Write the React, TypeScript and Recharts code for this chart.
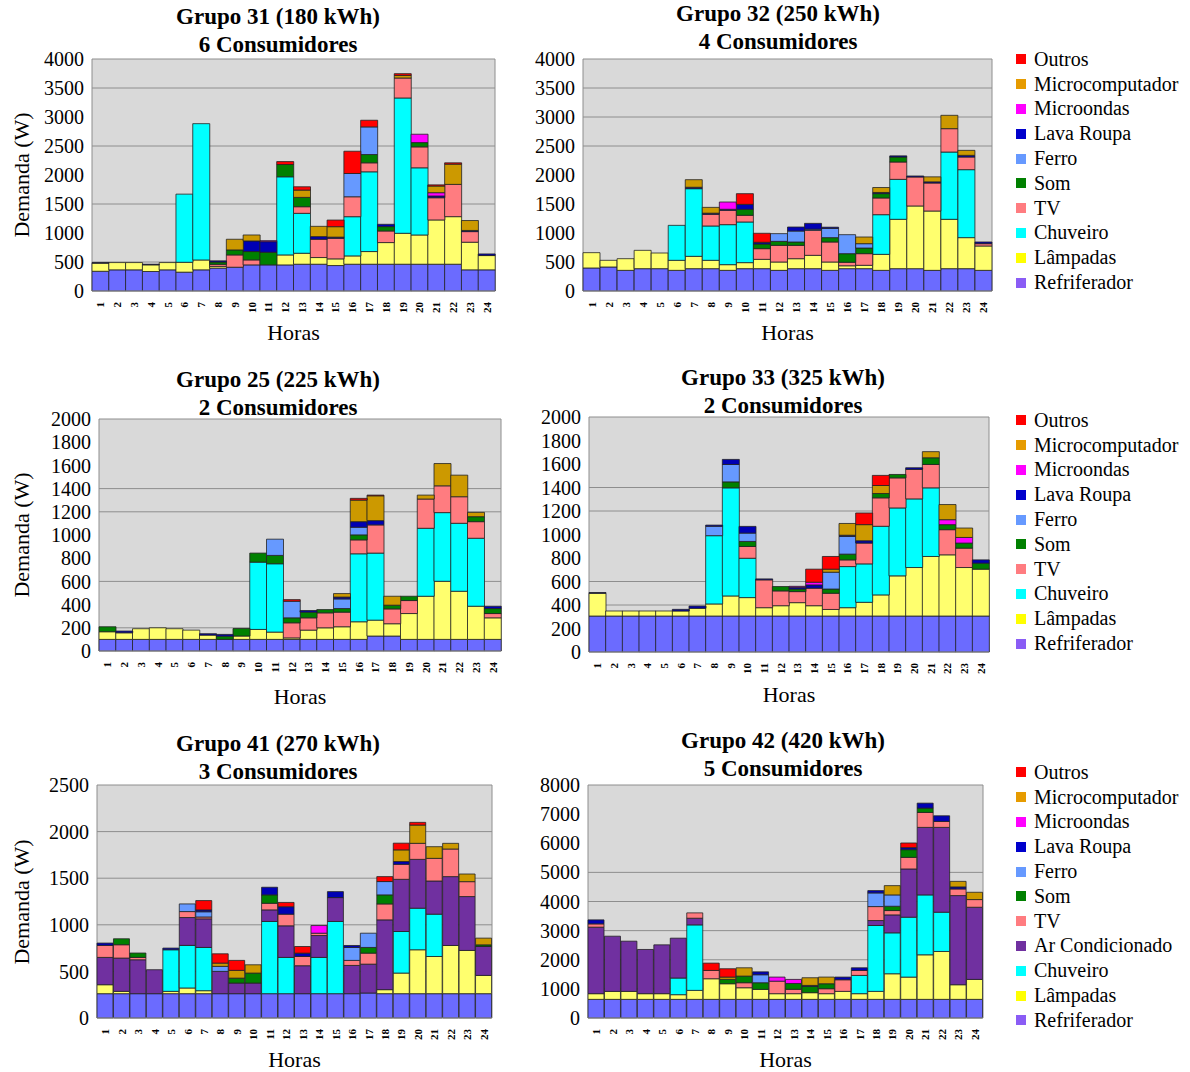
import { BarChart, Bar, XAxis, YAxis, CartesianGrid } from 'recharts';

const horas = ['1', '2', '3', '4', '5', '6', '7', '8', '9', '10', '11', '12', '13', '14', '15', '16', '17', '18', '19', '20', '21', '22', '23', '24'];

const ticks4000 = [0, 500, 1000, 1500, 2000, 2500, 3000, 3500, 4000];
const ticks2000 = [0, 200, 400, 600, 800, 1000, 1200, 1400, 1600, 1800, 2000];
const ticks2500 = [0, 500, 1000, 1500, 2000, 2500];
const ticks8000 = [0, 1000, 2000, 3000, 4000, 5000, 6000, 7000, 8000];

// Grupo 31 (180 kWh)
const g31Refrigerador = [340, 365, 365, 336, 365, 325, 365, 395, 410, 450, 450, 450, 462, 462, 439, 462, 462, 462, 462, 462, 462, 462, 365, 365];
const g31Lampadas = [140, 125, 125, 115, 125, 170, 170, 30, 0, 0, 0, 172, 189, 115, 115, 143, 218, 373, 533, 504, 763, 820, 476, 246];
const g31Chuveiro = [0, 0, 0, 0, 0, 1175, 2350, 0, 0, 0, 0, 1347, 688, 0, 0, 676, 1375, 0, 2333, 1158, 0, 0, 0, 0];
const g31Tv = [0, 0, 0, 0, 0, 0, 0, 35, 212, 86, 0, 0, 114, 315, 355, 344, 155, 200, 344, 361, 383, 556, 183, 0];
const g31Som = [0, 0, 0, 0, 0, 0, 0, 40, 86, 144, 218, 212, 161, 0, 0, 0, 143, 75, 0, 74, 0, 0, 0, 0];
const g31Ferro = [0, 0, 0, 0, 0, 0, 0, 0, 0, 0, 0, 0, 0, 0, 0, 401, 476, 0, 0, 0, 0, 0, 0, 0];
const g31LavaRoupa = [10, 0, 0, 10, 0, 0, 0, 20, 0, 183, 183, 0, 0, 46, 20, 0, 0, 40, 0, 0, 30, 0, 20, 28];
const g31Microondas = [0, 0, 0, 0, 0, 0, 0, 0, 0, 0, 17, 0, 0, 0, 0, 0, 0, 0, 0, 144, 57, 0, 0, 0];
const g31Microcomputador = [0, 0, 0, 0, 0, 0, 0, 0, 184, 103, 0, 0, 126, 177, 180, 0, 0, 0, 45, 0, 115, 349, 171, 0];
const g31Outros = [0, 0, 0, 0, 0, 0, 0, 0, 0, 0, 0, 50, 57, 0, 114, 384, 115, 0, 30, 0, 20, 23, 0, 0];

// Grupo 32 (250 kWh)
const g32Refrigerador = [397, 414, 356, 385, 385, 356, 385, 385, 356, 385, 385, 356, 385, 385, 356, 385, 385, 356, 385, 385, 356, 385, 385, 356];
const g32Lampadas = [264, 115, 201, 316, 270, 173, 213, 144, 98, 104, 161, 144, 172, 230, 144, 50, 58, 276, 851, 1081, 1023, 851, 535, 420];
const g32Chuveiro = [0, 0, 0, 0, 0, 603, 1166, 592, 690, 701, 0, 0, 0, 0, 0, 0, 0, 684, 689, 0, 0, 1160, 1172, 0];
const g32Tv = [0, 0, 0, 0, 0, 0, 0, 201, 247, 115, 184, 287, 230, 431, 345, 60, 201, 288, 299, 500, 483, 403, 218, 40];
const g32Som = [0, 0, 0, 0, 0, 0, 0, 0, 0, 103, 80, 69, 58, 0, 75, 149, 97, 75, 86, 0, 0, 0, 0, 0];
const g32Ferro = [0, 0, 0, 0, 0, 0, 0, 0, 0, 0, 0, 133, 189, 20, 160, 327, 75, 0, 0, 0, 0, 0, 0, 0];
const g32LavaRoupa = [0, 0, 0, 0, 0, 0, 25, 20, 18, 86, 30, 0, 69, 100, 20, 0, 0, 20, 20, 17, 20, 0, 29, 29];
const g32Microondas = [0, 0, 0, 0, 0, 0, 0, 0, 125, 0, 0, 0, 0, 0, 0, 0, 0, 0, 0, 0, 0, 0, 0, 0];
const g32Microcomputador = [0, 0, 0, 0, 0, 0, 130, 100, 0, 0, 0, 0, 0, 0, 0, 0, 115, 85, 0, 0, 86, 230, 86, 0];
const g32Outros = [0, 0, 0, 0, 0, 0, 0, 0, 0, 184, 155, 0, 0, 0, 0, 0, 0, 0, 0, 0, 0, 0, 0, 0];

// Grupo 25 (225 kWh)
const g25Refrigerador = [100, 100, 100, 100, 100, 100, 100, 100, 100, 100, 100, 100, 100, 100, 100, 100, 129, 129, 100, 100, 100, 100, 100, 100];
const g25Lampadas = [66, 57, 92, 100, 92, 80, 37, 0, 29, 86, 63, 13, 80, 100, 109, 152, 137, 106, 223, 372, 501, 415, 286, 186];
const g25Chuveiro = [0, 0, 0, 0, 0, 0, 0, 0, 0, 580, 589, 0, 0, 0, 0, 586, 578, 0, 0, 586, 592, 586, 586, 0];
const g25Tv = [0, 0, 0, 0, 0, 0, 0, 0, 0, 0, 0, 130, 106, 129, 126, 120, 243, 128, 112, 252, 231, 229, 143, 37];
const g25Som = [43, 0, 0, 0, 0, 0, 0, 28, 65, 78, 72, 43, 49, 28, 31, 43, 0, 32, 37, 0, 0, 0, 43, 43];
const g25Ferro = [0, 0, 0, 0, 0, 0, 0, 0, 0, 0, 140, 143, 0, 0, 83, 66, 0, 0, 0, 0, 0, 0, 0, 0];
const g25LavaRoupa = [0, 15, 0, 0, 0, 0, 12, 15, 0, 0, 0, 0, 14, 0, 16, 48, 37, 0, 0, 0, 0, 0, 0, 20];
const g25Microondas = [0, 0, 0, 0, 0, 0, 0, 0, 0, 0, 0, 0, 0, 0, 0, 0, 0, 0, 0, 0, 0, 0, 0, 0];
const g25Microcomputador = [0, 0, 0, 0, 0, 0, 0, 0, 0, 0, 0, 0, 0, 0, 30, 186, 214, 77, 0, 34, 192, 186, 37, 0];
const g25Outros = [0, 0, 0, 0, 0, 0, 0, 0, 0, 0, 0, 14, 0, 0, 0, 15, 6, 0, 0, 0, 0, 0, 0, 0];

// Grupo 33 (325 kWh)
const g33Refrigerador = [306, 306, 306, 306, 306, 306, 306, 306, 306, 306, 306, 306, 306, 306, 306, 306, 306, 306, 306, 306, 306, 306, 306, 306];
const g33Lampadas = [194, 43, 43, 43, 43, 43, 66, 103, 171, 157, 71, 88, 114, 88, 56, 71, 117, 180, 342, 413, 507, 521, 413, 399];
const g33Chuveiro = [0, 0, 0, 0, 0, 0, 0, 581, 920, 335, 0, 0, 0, 0, 0, 350, 327, 584, 578, 584, 584, 0, 0, 0];
const g33Tv = [0, 0, 0, 0, 0, 0, 0, 0, 0, 100, 237, 126, 94, 149, 138, 57, 177, 242, 256, 251, 199, 214, 165, 0];
const g33Som = [0, 0, 0, 0, 0, 0, 0, 0, 51, 43, 0, 37, 22, 0, 36, 49, 0, 37, 29, 0, 57, 43, 43, 51];
const g33Ferro = [0, 0, 0, 0, 0, 0, 0, 80, 148, 71, 0, 0, 0, 0, 143, 151, 0, 0, 0, 0, 0, 0, 0, 0];
const g33LavaRoupa = [6, 0, 0, 0, 0, 14, 19, 10, 43, 57, 8, 0, 15, 28, 0, 10, 20, 0, 0, 14, 0, 0, 0, 28];
const g33Microondas = [0, 0, 0, 0, 0, 0, 0, 0, 0, 0, 0, 0, 8, 23, 0, 0, 0, 0, 0, 0, 0, 42, 48, 0];
const g33Microcomputador = [0, 0, 0, 0, 0, 0, 0, 0, 0, 0, 0, 0, 0, 0, 26, 100, 137, 68, 0, 0, 52, 129, 80, 0];
const g33Outros = [0, 0, 0, 0, 0, 0, 0, 0, 0, 0, 0, 0, 0, 111, 108, 0, 99, 86, 0, 0, 0, 0, 0, 0];

// Grupo 41 (270 kWh)
const g41Refrigerador = [261, 261, 261, 261, 261, 261, 261, 261, 261, 261, 261, 261, 261, 261, 261, 261, 268, 261, 261, 261, 261, 261, 261, 261];
const g41Lampadas = [96, 25, 0, 0, 25, 61, 32, 0, 0, 0, 0, 0, 0, 0, 0, 0, 0, 43, 221, 471, 399, 517, 464, 196];
const g41Chuveiro = [0, 0, 0, 0, 446, 457, 464, 0, 0, 0, 775, 389, 0, 389, 775, 0, 0, 0, 446, 446, 454, 0, 0, 0];
const g41ArCondicionado = [293, 357, 364, 257, 0, 299, 307, 239, 114, 114, 124, 339, 300, 235, 256, 303, 310, 749, 560, 524, 356, 739, 578, 310];
const g41Tv = [129, 143, 25, 0, 0, 64, 20, 0, 0, 0, 71, 125, 99, 25, 0, 54, 118, 171, 161, 172, 243, 296, 160, 0];
const g41Som = [0, 64, 47, 0, 0, 0, 0, 0, 53, 107, 90, 0, 0, 0, 0, 0, 61, 97, 0, 0, 0, 0, 0, 18];
const g41Ferro = [0, 0, 0, 0, 0, 82, 56, 54, 0, 0, 0, 0, 0, 0, 0, 139, 153, 143, 0, 0, 0, 0, 0, 0];
const g41LavaRoupa = [25, 0, 0, 0, 18, 0, 20, 0, 0, 0, 82, 80, 36, 0, 64, 21, 0, 0, 30, 0, 0, 0, 0, 0];
const g41Microondas = [0, 0, 0, 0, 0, 0, 0, 0, 0, 0, 0, 0, 0, 82, 0, 0, 0, 0, 0, 0, 0, 0, 0, 0];
const g41Microcomputador = [0, 0, 0, 0, 0, 0, 0, 35, 83, 89, 0, 0, 0, 0, 0, 0, 0, 0, 125, 196, 125, 61, 82, 72];
const g41Outros = [0, 0, 0, 0, 0, 0, 100, 100, 107, 0, 0, 46, 71, 0, 0, 0, 0, 53, 72, 29, 0, 0, 0, 0];

// Grupo 42 (420 kWh)
const g42Refrigerador = [640, 640, 640, 640, 640, 640, 640, 640, 640, 640, 640, 640, 640, 640, 640, 640, 640, 640, 640, 640, 640, 640, 640, 640];
const g42Lampadas = [195, 274, 274, 195, 195, 160, 308, 708, 536, 399, 342, 195, 195, 229, 195, 274, 195, 274, 879, 765, 1530, 1644, 502, 685];
const g42Chuveiro = [0, 0, 0, 0, 0, 572, 2249, 0, 0, 0, 0, 0, 0, 0, 0, 0, 627, 2262, 1405, 2056, 2056, 1348, 0, 0];
const g42ArCondicionado = [2284, 1895, 1724, 1518, 1677, 1369, 229, 0, 0, 0, 0, 0, 0, 0, 0, 0, 0, 171, 616, 1656, 2318, 2912, 3061, 2478];
const g42Tv = [113, 0, 0, 0, 0, 0, 183, 285, 0, 172, 0, 430, 150, 0, 170, 399, 171, 479, 149, 399, 514, 205, 228, 263];
const g42Som = [0, 0, 0, 0, 0, 0, 0, 0, 150, 228, 229, 0, 200, 216, 171, 0, 0, 0, 148, 263, 148, 0, 0, 0];
const g42Ferro = [0, 0, 0, 0, 0, 0, 0, 0, 0, 0, 274, 0, 0, 0, 0, 0, 0, 468, 389, 0, 0, 0, 0, 0];
const g42LavaRoupa = [137, 0, 0, 0, 0, 0, 0, 0, 0, 0, 100, 0, 0, 34, 0, 92, 91, 80, 0, 70, 171, 194, 70, 0];
const g42Microondas = [0, 0, 0, 0, 0, 0, 0, 0, 0, 0, 0, 140, 140, 0, 0, 0, 0, 0, 0, 0, 0, 0, 0, 0];
const g42Microcomputador = [0, 0, 0, 0, 0, 0, 0, 0, 80, 285, 0, 0, 0, 263, 229, 0, 0, 0, 319, 0, 0, 0, 190, 251];
const g42Outros = [0, 0, 0, 0, 0, 0, 0, 251, 285, 0, 0, 0, 0, 0, 0, 0, 0, 0, 0, 160, 0, 0, 0, 0];

// stack order bottom -> top
const SERIES = [
  { key: 'refrigerador', name: 'Refriferador', color: '#6B6BFF', legend: '#8A5CF5' },
  { key: 'lampadas', name: 'Lâmpadas', color: '#FFFF6E', legend: '#FFFF00' },
  { key: 'chuveiro', name: 'Chuveiro', color: '#00FFFF', legend: '#00FFFF' },
  { key: 'arCondicionado', name: 'Ar Condicionado', color: '#7030A0', legend: '#7030A0' },
  { key: 'tv', name: 'TV', color: '#FF7C80', legend: '#FF7C80' },
  { key: 'som', name: 'Som', color: '#008000', legend: '#008000' },
  { key: 'ferro', name: 'Ferro', color: '#6699FF', legend: '#6699FF' },
  { key: 'lavaRoupa', name: 'Lava Roupa', color: '#0000B4', legend: '#0000CC' },
  { key: 'microondas', name: 'Microondas', color: '#FF00FF', legend: '#FF00FF' },
  { key: 'microcomputador', name: 'Microcomputador', color: '#CC9900', legend: '#E69B00' },
  { key: 'outros', name: 'Outros', color: '#FF0000', legend: '#FF0000' },
];

const FONT = '"Liberation Serif", "Times New Roman", serif';

function rows(cols: Record<string, number[]>) {
  return horas.map((hora, i) => {
    const r: Record<string, number | string> = { hora };
    for (const k in cols) r[k] = cols[k][i];
    return r;
  });
}

const panels = [
  {
    title: 'Grupo 31 (180 kWh)', sub: '6 Consumidores', x0: 92, x1: 495, y0: 59, y1: 291,
    yMax: 4000, ticks: ticks4000, grid: [500, 1500, 2500, 3500, 4000], titleX: 278, titleY: 3, horasY: 333, yLabel: true,
    data: rows({ refrigerador: g31Refrigerador, lampadas: g31Lampadas, chuveiro: g31Chuveiro, tv: g31Tv, som: g31Som, ferro: g31Ferro, lavaRoupa: g31LavaRoupa, microondas: g31Microondas, microcomputador: g31Microcomputador, outros: g31Outros }),
  },
  {
    title: 'Grupo 32 (250 kWh)', sub: '4 Consumidores', x0: 583, x1: 992, y0: 59, y1: 291,
    yMax: 4000, ticks: ticks4000, grid: [2500, 3000, 3500, 4000], titleX: 778, titleY: 0, horasY: 333, yLabel: false,
    data: rows({ refrigerador: g32Refrigerador, lampadas: g32Lampadas, chuveiro: g32Chuveiro, tv: g32Tv, som: g32Som, ferro: g32Ferro, lavaRoupa: g32LavaRoupa, microondas: g32Microondas, microcomputador: g32Microcomputador, outros: g32Outros }),
  },
  {
    title: 'Grupo 25 (225 kWh)', sub: '2 Consumidores', x0: 99, x1: 501, y0: 419, y1: 651,
    yMax: 2000, ticks: ticks2000, grid: [200, 600, 1200, 1400, 2000], titleX: 278, titleY: 366, horasY: 697, yLabel: true,
    data: rows({ refrigerador: g25Refrigerador, lampadas: g25Lampadas, chuveiro: g25Chuveiro, tv: g25Tv, som: g25Som, ferro: g25Ferro, lavaRoupa: g25LavaRoupa, microondas: g25Microondas, microcomputador: g25Microcomputador, outros: g25Outros }),
  },
  {
    title: 'Grupo 33 (325 kWh)', sub: '2 Consumidores', x0: 589, x1: 989, y0: 417, y1: 652,
    yMax: 2000, ticks: ticks2000, grid: [400, 600, 1200, 1400, 2000], titleX: 783, titleY: 364, horasY: 695, yLabel: false,
    data: rows({ refrigerador: g33Refrigerador, lampadas: g33Lampadas, chuveiro: g33Chuveiro, tv: g33Tv, som: g33Som, ferro: g33Ferro, lavaRoupa: g33LavaRoupa, microondas: g33Microondas, microcomputador: g33Microcomputador, outros: g33Outros }),
  },
  {
    title: 'Grupo 41 (270 kWh)', sub: '3 Consumidores', x0: 97, x1: 492, y0: 785, y1: 1018,
    yMax: 2500, ticks: ticks2500, grid: [500, 1000, 1500, 2000, 2500], titleX: 278, titleY: 730, horasY: 1060, yLabel: true,
    data: rows({ refrigerador: g41Refrigerador, lampadas: g41Lampadas, chuveiro: g41Chuveiro, arCondicionado: g41ArCondicionado, tv: g41Tv, som: g41Som, ferro: g41Ferro, lavaRoupa: g41LavaRoupa, microondas: g41Microondas, microcomputador: g41Microcomputador, outros: g41Outros }),
  },
  {
    title: 'Grupo 42 (420 kWh)', sub: '5 Consumidores', x0: 588, x1: 983, y0: 785, y1: 1018,
    yMax: 8000, ticks: ticks8000, grid: [1000, 2000, 3000, 4000, 5000, 8000], titleX: 783, titleY: 727, horasY: 1060, yLabel: false,
    data: rows({ refrigerador: g42Refrigerador, lampadas: g42Lampadas, chuveiro: g42Chuveiro, arCondicionado: g42ArCondicionado, tv: g42Tv, som: g42Som, ferro: g42Ferro, lavaRoupa: g42LavaRoupa, microondas: g42Microondas, microcomputador: g42Microcomputador, outros: g42Outros }),
  },
];

const HourTick = (props: any) => {
  const { x, y, payload } = props;
  return (
    <text
      transform={`translate(${x + 4},${y + 3}) rotate(-90)`}
      textAnchor="end"
      fontSize={11}
      fontWeight="bold"
      fontFamily={FONT}
      fill="#000"
    >
      {payload.value}
    </text>
  );
};

const YW = 62;
const MT = 14;
const MR = 6;
const XH = 26;

function Panel({ p }: { p: (typeof panels)[number] }) {
  const keys = Object.keys(p.data[0]).filter((k) => k !== 'hora');
  const series = SERIES.filter((s) => keys.includes(s.key));
  const w = p.x1 - p.x0 + YW + MR;
  const h = p.y1 - p.y0 + MT + XH;
  const cx = (p.x0 + p.x1) / 2;
  return (
    <>
      <div style={{ position: 'absolute', left: p.titleX - 200, top: p.titleY, width: 400, textAlign: 'center', fontFamily: FONT, fontWeight: 'bold', fontSize: 23, lineHeight: '28px' }}>
        <div>{p.title}</div>
        <div>{p.sub}</div>
      </div>
      <div style={{ position: 'absolute', left: p.x0 - YW, top: p.y0 - MT, width: w, height: h }}>
        <BarChart width={w} height={h} data={p.data} margin={{ top: MT, right: MR, bottom: 0, left: 0 }} barCategoryGap={0} barGap={0}>
          <CartesianGrid
            fill="#D9D9D9"
            stroke="#8E8E8E"
            horizontalValues={p.grid}
            verticalCoordinatesGenerator={({ offset }: any) => [offset.left, offset.left + offset.width]}
          />
          <XAxis dataKey="hora" height={XH} interval={0} tick={<HourTick />} tickLine={false} axisLine={{ stroke: '#8E8E8E' }} />
          <YAxis
            domain={[0, p.yMax]}
            ticks={p.ticks}
            interval={0}
            width={YW}
            tickLine={false}
            axisLine={false}
            tick={{ fontSize: 20, fill: '#000', fontFamily: FONT }}
          />
          {series.map((s) => (
            <Bar key={s.key} dataKey={s.key} name={s.name} stackId="a" fill={s.color} stroke="#222" strokeWidth={0.8} isAnimationActive={false} />
          ))}
        </BarChart>
      </div>
      <div style={{ position: 'absolute', left: cx - 100, top: p.horasY - 14, width: 200, textAlign: 'center', fontFamily: FONT, fontSize: 22, lineHeight: '28px' }}>Horas</div>
      {p.yLabel && (
        <div style={{ position: 'absolute', left: 22 - 100, top: (p.y0 + p.y1) / 2 - 14, width: 200, height: 28, textAlign: 'center', fontFamily: FONT, fontSize: 22, lineHeight: '28px', transform: 'rotate(-90deg)' }}>
          Demanda (W)
        </div>
      )}
    </>
  );
}

function LegendBox({ top, withAc }: { top: number; withAc: boolean }) {
  const items = SERIES.filter((s) => withAc || s.key !== 'arCondicionado').slice().reverse();
  return (
    <div style={{ position: 'absolute', left: 1016, top, fontFamily: FONT, fontSize: 20 }}>
      {items.map((s) => (
        <div key={s.key} style={{ display: 'flex', alignItems: 'center', height: 24.8, whiteSpace: 'nowrap' }}>
          <span style={{ display: 'inline-block', width: 10, height: 10, background: s.legend, marginRight: 8 }} />
          <span>{s.name}</span>
        </div>
      ))}
    </div>
  );
}

export default function App() {
  return (
    <div style={{ position: 'absolute', left: 0, top: 0, width: 1190, height: 1072, background: '#fff', overflow: 'hidden' }}>
      {panels.map((p) => (
        <Panel key={p.title} p={p} />
      ))}
      <LegendBox top={47} withAc={false} />
      <LegendBox top={408} withAc={false} />
      <LegendBox top={760} withAc={true} />
    </div>
  );
}
